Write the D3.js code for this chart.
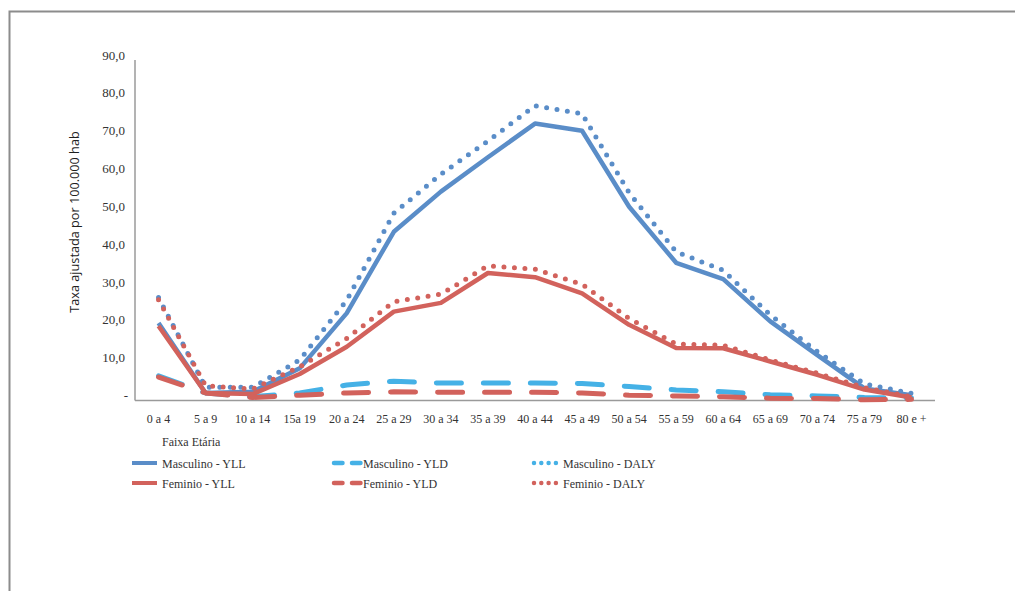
<!DOCTYPE html>
<html>
<head>
<meta charset="utf-8">
<script src="https://cdn.jsdelivr.net/npm/d3@7"></script>
<style>
    body { margin: 0; background: #fff; }
    svg { display: block; }
</style>
</head>
<body>
<div id="chart"></div>
<script>

// Age groups (x axis)
var faixas = ["0 a 4", "5 a 9", "10 a 14", "15a 19", "20 a 24", "25 a 29", "30 a 34",
    "35 a 39", "40 a 44", "45 a 49", "50 a 54", "55 a 59", "60 a 64", "65 a 69",
    "70 a 74", "75 a 79", "80 e +"];

// Series values, rate per 100.000
var masculinoYLL = [20.5, 2.0, 2.3, 8.5, 23.1, 44.6, 55.2, 64.3, 73.2, 71.3, 51.2, 36.4, 32.1, 20.9, 12.0, 3.2, 1.4];
var masculinoYLD = [6.5, 2.0, 1.0, 2.0, 4.1, 5.1, 4.6, 4.6, 4.6, 4.5, 3.7, 2.8, 2.3, 1.5, 1.2, 0.8, 0.7];
var masculinoDALY = [27.2, 3.5, 3.5, 10.7, 26.5, 49.5, 59.8, 68.6, 77.9, 75.8, 54.9, 39.3, 34.4, 22.6, 12.9, 4.4, 1.9];
var femininoYLL = [19.7, 2.0, 1.7, 7.0, 14.2, 23.5, 25.8, 33.7, 32.6, 28.3, 20.0, 13.9, 13.8, 10.3, 6.8, 2.9, 0.8];
var femininoYLD = [6.2, 2.0, 0.8, 1.4, 2.0, 2.3, 2.2, 2.2, 2.2, 2.0, 1.4, 1.2, 1.0, 0.6, 0.5, 0.2, 0.3];
var femininoDALY = [26.6, 3.9, 3.0, 8.9, 16.4, 26.1, 28.1, 35.6, 34.7, 30.7, 21.7, 14.9, 14.6, 10.7, 7.2, 3.4, 1.0];

// Tick labels
var yTicks = [0, 10, 20, 30, 40, 50, 60, 70, 80, 90];
var yTickLabels = ["-", "10,0", "20,0", "30,0", "40,0", "50,0", "60,0", "70,0", "80,0", "90,0"];

var blue = "#5a8dc8",
    lightBlue = "#45b1e6",
    red = "#d2625c";

var series = [
    {name: "Masculino - YLL", values: masculinoYLL, color: blue, style: "solid"},
    {name: "Masculino - YLD", values: masculinoYLD, color: lightBlue, style: "dash"},
    {name: "Masculino - DALY", values: masculinoDALY, color: lightBlue, style: "dot"},
    {name: "Feminino - YLL", values: femininoYLL, color: red, style: "solid"},
    {name: "Feminino - YLD", values: femininoYLD, color: red, style: "dash"},
    {name: "Feminino - DALY", values: femininoDALY, color: red, style: "dot"}
];
// legend shows "Feminio", as in the original
var legendNames = ["Masculino - YLL", "Masculino - YLD", "Masculino - DALY",
    "Feminio - YLL", "Feminio - YLD", "Feminio - DALY"];

var width = 1015, height = 591;
var plot = {left: 135, right: 935, top: 60, bottom: 400.5};

var svg = d3.select("#chart")
    .append("svg")
        .attr("width", width)
        .attr("height", height);

// outer frame (only top and left edges show)
svg.append("path")
    .attr("d", "M9.5,600 L9.5,11.5 L1020,11.5")
    .attr("fill", "none")
    .attr("stroke", "#8c8c8c")
    .attr("stroke-width", 2);

var x = d3.scaleBand().domain(faixas).range([plot.left, plot.right]);
var y = d3.scaleLinear().domain([0, 90]).range([plot.bottom, plot.top]);

var cx = function(i) { return x(faixas[i]) + x.bandwidth() / 2; };

// Axes
svg.append("line")
    .attr("x1", plot.left).attr("x2", plot.left)
    .attr("y1", plot.top).attr("y2", plot.bottom)
    .attr("stroke", "#9a9a9a").attr("stroke-width", 1.5);
svg.append("line")
    .attr("x1", plot.left).attr("x2", plot.right)
    .attr("y1", plot.bottom).attr("y2", plot.bottom)
    .attr("stroke", "#9a9a9a").attr("stroke-width", 1.5);

svg.selectAll(".ytick")
    .data(yTicks)
    .enter().append("text")
        .attr("class", "ytick")
        .attr("x", function(d) { return d === 0 ? 128 : 125; })
        .attr("y", function(d) { return y(d) - 0.5; })
        .attr("text-anchor", "end")
        .attr("font-family", "Liberation Serif")
        .attr("font-size", 13)
        .attr("fill", "#333")
        .text(function(d, i) { return yTickLabels[i]; });

svg.selectAll(".xtick")
    .data(faixas)
    .enter().append("text")
        .attr("class", "xtick")
        .attr("x", function(d) { return x(d) + x.bandwidth() / 2; })
        .attr("y", 423)
        .attr("text-anchor", "middle")
        .attr("font-family", "Liberation Serif")
        .attr("font-size", 12)
        .attr("fill", "#333")
        .text(function(d) { return d; });

svg.append("text")
    .attr("x", 162)
    .attr("y", 446)
    .attr("font-family", "Liberation Serif")
    .attr("font-size", 12)
    .attr("fill", "#333")
    .text("Faixa Etária");

svg.append("text")
    .attr("transform", "translate(79,222) rotate(-90)")
    .attr("text-anchor", "middle")
    .attr("font-family", "Open Sans")
    .attr("font-size", 12.7)
    .attr("fill", "#1f1f1f")
    .text("Taxa ajustada por 100.000 hab");

// Lines
var line = d3.line()
    .x(function(d, i) { return cx(i); })
    .y(function(d) { return y(d); });

var strokeStyle = {
    solid: {width: 4.5, dash: null},
    dash: {width: 5, dash: "25,22"},
    dot: {width: 5, dash: "0,10.5"}
};

series.forEach(function(s) {
    svg.append("path")
        .attr("d", line(s.values))
        .attr("fill", "none")
        // male DALY is drawn darker in the plot than in its legend key
        .attr("stroke", s.style === "dot" && s.color === lightBlue ? blue : s.color)
        .attr("stroke-width", strokeStyle[s.style].width)
        .attr("stroke-dasharray", strokeStyle[s.style].dash)
        .attr("stroke-linecap", s.style === "solid" ? "butt" : "round")
        .attr("stroke-linejoin", "round");
});

// Legend
var legendStyle = {
    solid: {width: 4, dash: null, x0: 132, x1: 157},
    dash: {width: 4.5, dash: "8.5,9.5", x0: 334, x1: 361},
    dot: {width: 4.5, dash: "0,7.3", x0: 534, x1: 556}
};
var legendText = {solid: 162, dash: 363, dot: 563};

series.forEach(function(s, i) {
    var row = Math.floor(i / 3);
    var ly = 463 + row * 20;
    var st = legendStyle[s.style];
    svg.append("line")
        .attr("x1", st.x0).attr("x2", st.x1)
        .attr("y1", ly).attr("y2", ly)
        .attr("stroke", s.color)
        .attr("stroke-width", st.width)
        .attr("stroke-dasharray", st.dash)
        .attr("stroke-linecap", s.style === "solid" ? "butt" : "round");
    svg.append("text")
        .attr("x", legendText[s.style])
        .attr("y", ly + 4.5)
        .attr("font-family", "Liberation Serif")
        .attr("font-size", 12)
        .attr("fill", "#333")
        .text(legendNames[i]);
});

</script>
</body>
</html>
